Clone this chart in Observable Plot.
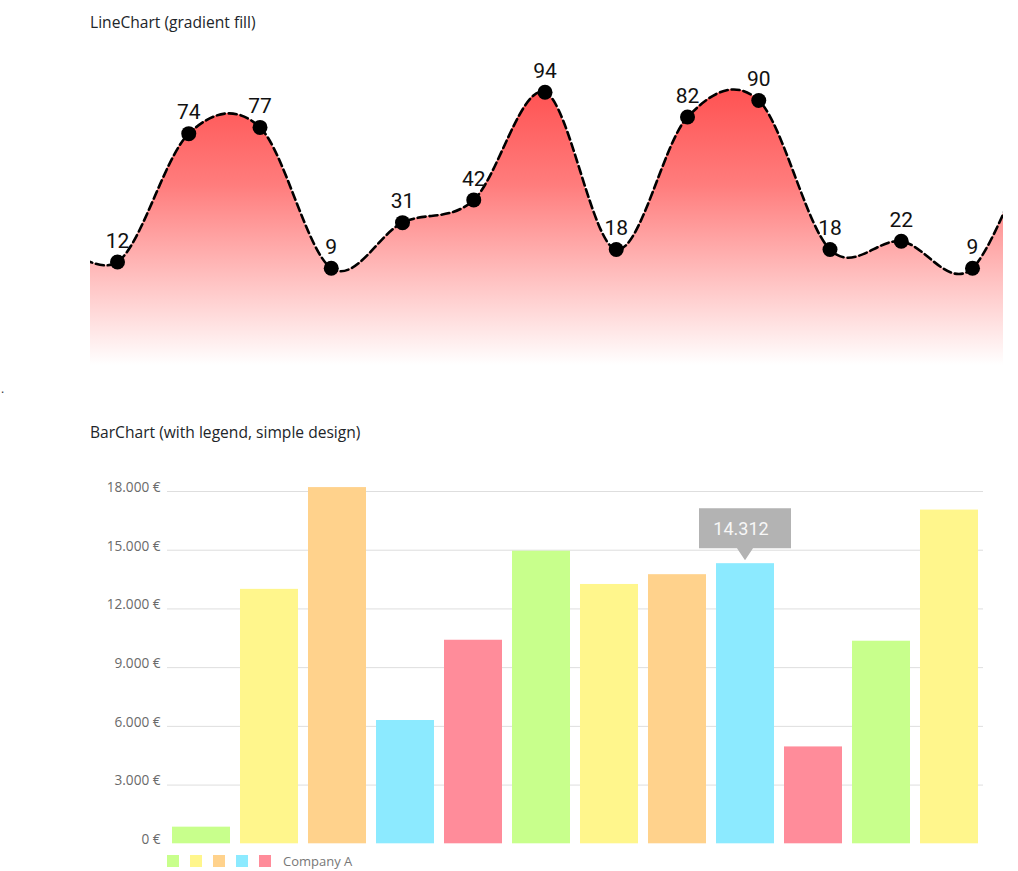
<!DOCTYPE html>
<html>
<head>
<meta charset="utf-8">
<script src="https://cdn.jsdelivr.net/npm/d3@7"></script>
<script src="https://cdn.jsdelivr.net/npm/@observablehq/plot@0.6"></script>
<style>
  html, body { margin: 0; padding: 0; background: #fff; }
  body { position: relative; width: 1018px; height: 871px; overflow: hidden; font-family: "Open Sans", sans-serif; }
  .title { position: absolute; left: 90px; font-size: 15.6px; color: #212529; white-space: nowrap; line-height: 20px; }
  .abs { position: absolute; left: 0; }
  .legend { position: absolute; left: 167px; top: 855px; display: flex; align-items: center; font-size: 13px; color: #777; }
  .legend .sw { width: 12px; height: 12px; margin-right: 11px; }
  .legend .lab { margin-left: 1px; line-height: 12px; }
</style>
</head>
<body>
<div class="title" style="top:12px">LineChart (gradient fill)</div>
<div id="line" class="abs" style="top:40px"></div>
<div style="position:absolute;left:1px;top:380px;font-size:12px;color:#333">.</div>
<div class="title" style="top:422px">BarChart (with legend, simple design)</div>
<div id="bar" class="abs" style="top:460px"></div>
<div id="legend" class="legend"></div>
<script>
// ---- Line chart data (first and last points lie outside the visible area) ----
const lineIndex  = [0, 1, 2, 3, 4, 5, 6, 7, 8, 9, 10, 11, 12, 13, 14];
const lineValues = [27, 12, 74, 77, 9, 31, 42, 94, 18, 82, 90, 18, 22, 9, 85];
const visibleFrom = 1, visibleTo = 13;

// ---- Bar chart data ----
const barCategories = ["Jan", "Feb", "Mar", "Apr", "May", "Jun", "Jul", "Aug", "Sep", "Oct", "Nov", "Dec"];
const barValues = [850, 13000, 18200, 6300, 10400, 14950, 13250, 13750, 14312, 4950, 10350, 17050];
const palette = ["#c8ff8c", "#fff68c", "#ffd28c", "#8ceaff", "#ff8c9a"];
const yTicks = [0, 3000, 6000, 9000, 12000, 15000, 18000];
const tooltipIndex = 8;
const legendLabel = "Company A";

const lineData = lineIndex.map((i, k) => ({i, v: lineValues[k]}));
const shownData = lineData.filter(d => d.i >= visibleFrom && d.i <= visibleTo);
const yBase = -38;

const gradientDefs = () => {
  const defs = d3.create("svg:defs");
  const g = defs.append("linearGradient").attr("id", "lcGrad")
    .attr("x1", 0).attr("y1", 0).attr("x2", 0).attr("y2", 1);
  g.append("stop").attr("offset", "0%").attr("stop-color", "#ff5252").attr("stop-opacity", 1);
  g.append("stop").attr("offset", "35%").attr("stop-color", "#ff7d7d").attr("stop-opacity", 1);
  g.append("stop").attr("offset", "100%").attr("stop-color", "#ffffff").attr("stop-opacity", 1);
  return defs.node();
};

const linePlot = Plot.plot({
  width: 1018,
  height: 340,
  marginLeft: 90,
  marginRight: 15,
  marginTop: 39.3,
  marginBottom: 15,
  x: {domain: [0.621, 13.435], axis: null},
  y: {domain: [yBase, 100], axis: null},
  style: {fontFamily: "Roboto, sans-serif", background: "transparent"},
  marks: [
    gradientDefs,
    Plot.area(lineData, {x1: "i", y1: () => yBase, y2: "v", curve: "cardinal", tension: 0, fill: "url(#lcGrad)", clip: true}),
    Plot.line(lineData, {x: "i", y: "v", curve: "cardinal", tension: 0, stroke: "#000", strokeWidth: 2.6, strokeDasharray: "8,4", clip: true}),
    Plot.dot(shownData, {x: "i", y: "v", r: 7.5, fill: "#000", stroke: "none"}),
    Plot.text(shownData, {x: "i", y: "v", text: d => String(d.v), dy: -21, fontSize: 21, fill: "#111", fontFamily: "Roboto"})
  ]
});
document.getElementById("line").appendChild(linePlot);

const barData = barCategories.map((c, k) => ({c, v: barValues[k], color: palette[k % palette.length]}));
const euro = d => d3.format(",")(d).replace(/,/g, ".") + " €";

const barPlot = Plot.plot({
  width: 1018,
  height: 392,
  marginLeft: 167,
  marginRight: 35,
  marginTop: 31,
  marginBottom: 8.7,
  x: {domain: barCategories, paddingInner: 0.147, paddingOuter: 0.0735, axis: null},
  y: {domain: [0, 18000], axis: null},
  color: {type: "identity"},
  style: {fontFamily: "'Open Sans', sans-serif", background: "transparent"},
  marks: [
    Plot.gridY(yTicks.filter(t => t > 0), {stroke: "#dedede", strokeOpacity: 1, strokeWidth: 1}),
    Plot.axisY(yTicks, {label: null, tickSize: 0, tickPadding: 7, tickFormat: euro, fontSize: 13.6, fill: "#6a6a6a", dy: -4, fontFamily: "'Open Sans', sans-serif"}),
    Plot.barY(barData, {x: "c", y: "v", fill: "color"})
  ]
});
document.getElementById("bar").appendChild(barPlot);

// tooltip on the highlighted bar, positioned through the plot's scales
{
  const sx = barPlot.scale("x"), sy = barPlot.scale("y");
  const cx = sx.apply(barCategories[tooltipIndex]) + sx.bandwidth / 2;
  const top = sy.apply(barValues[tooltipIndex]);
  const g = d3.select(barPlot).append("g");
  const tip = top - 3, boxBottom = top - 15, boxTop = top - 55;
  g.append("path")
    .attr("d", `M${cx - 46},${boxTop}H${cx + 46}V${boxBottom}H${cx + 8}L${cx},${tip}L${cx - 8},${boxBottom}H${cx - 46}Z`)
    .attr("fill", "#b3b3b3");
  g.append("text")
    .attr("x", cx - 4).attr("y", (boxTop + boxBottom) / 2)
    .attr("text-anchor", "middle").attr("dominant-baseline", "central")
    .attr("font-family", "Roboto, sans-serif").attr("font-size", 18)
    .attr("fill", "#f7f7f7")
    .text(d3.format(",")(barValues[tooltipIndex]).replace(/,/g, "."));
}

// legend
{
  const lg = document.getElementById("legend");
  palette.forEach(c => {
    const s = document.createElement("div");
    s.className = "sw"; s.style.background = c;
    lg.appendChild(s);
  });
  const t = document.createElement("div");
  t.className = "lab"; t.textContent = legendLabel;
  lg.appendChild(t);
}
</script>
</body>
</html>
